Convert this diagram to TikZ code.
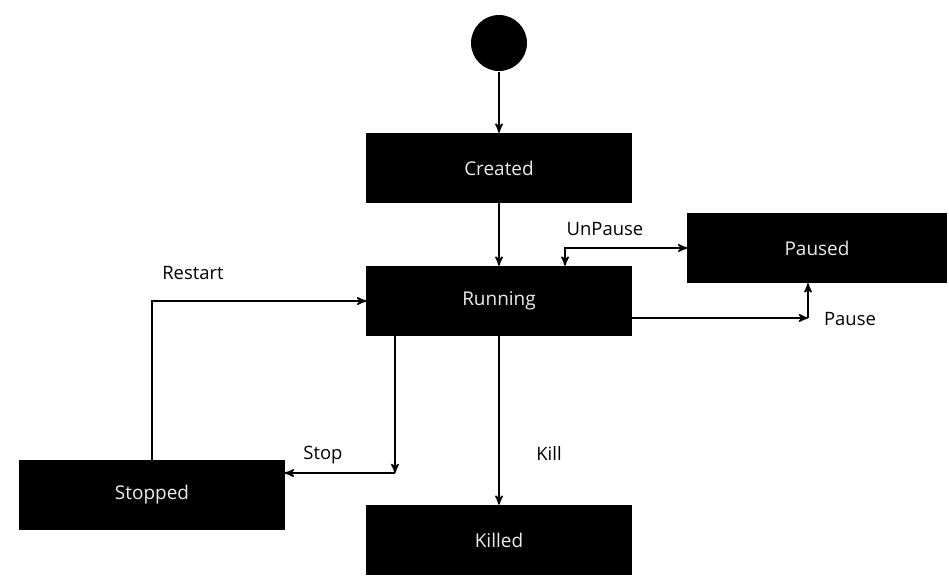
\documentclass[tikz,border=0pt]{standalone}
\usepackage{fontspec}
\setmainfont{Open Sans}
\usetikzlibrary{arrows}

\begin{document}
\begin{tikzpicture}[->,>=stealth',line width=0.9pt,x=0.02cm,y=-0.02cm,
    state/.style={shape=rectangle,fill=black,draw=black,text=white!92!black,
        minimum width=5.28cm,minimum height=1.38cm,font=\fontsize{10.8}{13}\selectfont},
    lbl/.style={font=\fontsize{10.5}{12}\selectfont,inner sep=1pt}]
                \useasboundingbox (0,0) rectangle (949,582);
                \node[shape=circle,fill=black,minimum size=1.12cm,inner sep=0pt](Start)at(499, 43){};
                \node[state](Created)at(499, 168){Created};
                \node[state](Running)at(499, 301){Running};
                \node[state,minimum width=5.16cm](Paused)at(817, 248){Paused};
                \node[state](Stopped)at(152, 495){Stopped};
                \node[state](Killed)at(499, 540){Killed};
                \coordinate(UnPauseTurn)at(565, 248);
                \coordinate(PauseTurn)at(808, 318);
                \coordinate(RestartTurn)at(152, 301);
                \coordinate(StopTurn)at(395, 473);
                \path[](Start) edge (Created)
                (Created) edge (Running)
                (Running) edge (Killed);
                \draw[<->](Paused.west) -- (UnPauseTurn) -- (UnPauseTurn |- Running.north);
                \draw(Running.east |- PauseTurn) -- (PauseTurn);
                \draw(PauseTurn) -- (PauseTurn |- Paused.south);
                \draw(Stopped.north) -- (RestartTurn) -- (Running.west);
                \draw(Running.south -| StopTurn) -- (StopTurn);
                \draw(StopTurn) -- (StopTurn -| Stopped.east);
                \node[lbl](UnPauseLbl)at(605, 229){UnPause};
                \node[lbl](PauseLbl)at(850, 319){Pause};
                \node[lbl](RestartLbl)at(193, 273){Restart};
                \node[lbl](StopLbl)at(323, 455){Stop};
                \node[lbl](KillLbl)at(549, 453){Kill};
            \end{tikzpicture}
\end{document}
